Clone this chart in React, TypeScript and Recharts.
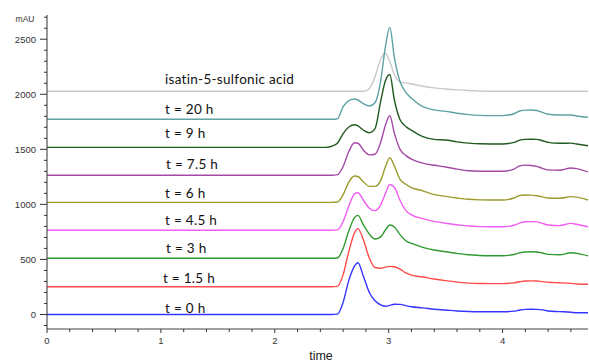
import React from "react";
import { LineChart, Line, XAxis, YAxis, ReferenceDot, Label } from "recharts";

// retention time grid (min)
const TIME = [0, 2.45, 2.5, 2.55, 2.6, 2.65, 2.7, 2.73, 2.78, 2.83, 2.88, 2.93, 2.97, 3.01, 3.05, 3.1, 3.15, 3.2, 3.3, 3.4, 3.5, 3.6, 3.7, 3.8, 3.9, 4.0, 4.1, 4.15, 4.2, 4.25, 4.3, 4.35, 4.4, 4.5, 4.6, 4.65, 4.75];

// absorbance above each trace's own baseline (mAU)
const T_0H = [0, 0, 0, 3, 110, 310, 440, 470, 340, 200, 125, 88, 75, 82, 93, 92, 80, 70, 60, 48, 40, 32, 27, 25, 25, 25, 30, 40, 46, 47, 46, 42, 32, 26, 20, 16, 15];
const T_1_5H = [0, 0, 0, 3, 110, 320, 490, 528, 420, 260, 175, 168, 178, 185, 182, 160, 125, 105, 88, 70, 55, 42, 33, 29, 28, 28, 35, 45, 52, 53, 52, 46, 40, 36, 30, 25, 22];
const T_3H = [0, 0, 0, 3, 90, 250, 370, 390, 300, 220, 175, 195, 255, 303, 285, 215, 160, 135, 100, 75, 60, 45, 32, 26, 24, 24, 35, 50, 58, 60, 58, 48, 36, 32, 50, 45, 22];
const T_4_5H = [0, 0, 0, 3, 80, 220, 330, 341, 270, 200, 178, 230, 330, 415, 390, 270, 180, 139, 105, 80, 63, 50, 38, 33, 32, 32, 45, 65, 77, 78, 76, 62, 48, 42, 62, 55, 32];
const T_6H = [0, 0, 0, 3, 70, 185, 240, 235, 185, 145, 145, 200, 320, 405, 330, 210, 165, 135, 105, 70, 55, 40, 28, 23, 22, 22, 40, 62, 67, 66, 60, 50, 40, 37, 52, 48, 22];
const T_7_5H = [0, 0, 0, 5, 80, 215, 295, 290, 225, 185, 190, 300, 450, 540, 380, 235, 180, 145, 110, 90, 75, 55, 40, 36, 36, 36, 55, 85, 91, 88, 80, 62, 48, 45, 66, 60, 30];
const T_9H = [0, 0, 10, 37, 125, 185, 205, 195, 155, 133, 170, 420, 600, 662, 430, 250, 190, 155, 97, 72, 67, 50, 38, 32, 31, 31, 45, 65, 72, 73, 72, 60, 45, 37, 38, 30, 15];
const T_20H = [0, 0, 0, 5, 115, 170, 184, 175, 140, 121, 150, 350, 650, 835, 560, 340, 245, 191, 115, 85, 72, 55, 42, 35, 33, 33, 50, 75, 83, 84, 80, 62, 45, 39, 39, 30, 18];
const ISATIN = [0, 0, 0, 0, 0, 0, 0, 0, 0, 25, 130, 290, 344, 270, 150, 85, 75, 65, 45, 30, 20, 12, 6, 2, 0, 0, 0, 0, 0, 0, 0, 0, 0, 0, 0, 0, 0];

const SERIES_NAMES = ["t = 0 h", "t = 1.5 h", "t = 3 h", "t = 4.5 h", "t = 6 h", "t = 7.5 h", "t = 9 h", "t = 20 h", "isatin-5-sulfonic acid"];
const SERIES_VALUES = [T_0H, T_1_5H, T_3H, T_4_5H, T_6H, T_7_5H, T_9H, T_20H, ISATIN];
const OFFSETS = [0, 252, 510, 765, 1018, 1265, 1518, 1773, 2028];
const COLORS = ["#3535ff", "#ff4a4a", "#2f9a2f", "#f25cf2", "#9b9b2e", "#a449a4", "#1f5a1f", "#5fa2a4", "#c9c9c9"];

// label anchor positions (data space)
const LABEL_X = [1.036, 1.018, 1.045, 1.036, 1.036, 1.045, 1.036, 1.036, 1.036];
const LABEL_Y = [56, 334, 601, 858, 1101, 1364, 1646, 1864, 2139];

const X_TICKS = [0, 0.2, 0.4, 0.6, 0.8, 1, 1.2, 1.4, 1.6, 1.8, 2, 2.2, 2.4, 2.6, 2.8, 3, 3.2, 3.4, 3.6, 3.8, 4, 4.2, 4.4, 4.6];
const X_LABELS = [0, 1, 2, 3, 4];
const Y_TICKS = [-100, 0, 100, 200, 300, 400, 500, 600, 700, 800, 900, 1000, 1100, 1200, 1300, 1400, 1500, 1600, 1700, 1800, 1900, 2000, 2100, 2200, 2300, 2400, 2500, 2600, 2700];
const Y_LABELS = [0, 500, 1000, 1500, 2000, 2500];

const data = TIME.map((t, i) => {
  const row: Record<string, number> = { t };
  SERIES_VALUES.forEach((s, k) => {
    row["s" + k] = s[i] + OFFSETS[k];
  });
  return row;
});

const AXIS_FONT = "'Liberation Sans', Arial, sans-serif";
const LABEL_FONT = "Lato, 'Open Sans', sans-serif";

const YTick = (props: any) => {
  const { x, y, payload } = props;
  const major = Y_LABELS.includes(payload.value);
  return (
    <g>
      <line x1={x - (major ? 7 : 3)} x2={x} y1={y} y2={y} stroke="#333" strokeWidth={1} />
      {major && (
        <text x={x - 11} y={y} textAnchor="end" dominantBaseline="central" fontSize={9.5} fill="#333" fontFamily={AXIS_FONT}>
          {payload.value}
        </text>
      )}
    </g>
  );
};

const XTick = (props: any) => {
  const { x, y, payload } = props;
  const major = X_LABELS.includes(payload.value);
  return (
    <g>
      <line x1={x} x2={x} y1={y} y2={y + (major ? 4 : 3)} stroke="#333" strokeWidth={1} />
      {major && (
        <text x={x} y={y + 11} textAnchor="middle" dominantBaseline="central" fontSize={9.5} fill="#333" fontFamily={AXIS_FONT}>
          {payload.value}
        </text>
      )}
    </g>
  );
};

export default function App() {
  return (
    <div style={{ position: "absolute", left: 0, top: 0, width: 589, height: 362, background: "#fff" }}>
      <LineChart width={589} height={362} data={data} margin={{ top: 15, right: 1, bottom: 0, left: 0 }}>
        <XAxis
          dataKey="t"
          type="number"
          domain={[0, 4.75]}
          ticks={X_TICKS}
          interval={0}
          tick={<XTick />}
          tickLine={false}
          tickSize={0}
          tickMargin={0}
          height={33}
          axisLine={{ stroke: "#a0a0a0", strokeWidth: 2 }}
        >
          <Label
            content={() => (
              <text x={321} y={360} textAnchor="middle" fontSize={12.5} fill="#222" fontFamily={AXIS_FONT}>
                time
              </text>
            )}
          />
        </XAxis>
        <YAxis
          type="number"
          domain={[-132, 2720]}
          ticks={Y_TICKS}
          interval={0}
          tick={<YTick />}
          tickLine={false}
          tickSize={0}
          tickMargin={0}
          width={47}
          allowDataOverflow
          axisLine={{ stroke: "#333", strokeWidth: 1 }}
        >
          <Label
            content={() => (
              <text x={25} y={19} textAnchor="middle" dominantBaseline="central" fontSize={8.5} fill="#333" fontFamily={AXIS_FONT}>
                mAU
              </text>
            )}
          />
        </YAxis>
        {SERIES_NAMES.map((name, k) => (
          <Line
            key={name}
            dataKey={"s" + k}
            name={name}
            type="monotone"
            stroke={COLORS[k]}
            strokeWidth={1.4}
            dot={false}
            activeDot={false}
            isAnimationActive={false}
          />
        )).reverse()}
        {SERIES_NAMES.map((name, k) => (
          <ReferenceDot
            key={"lbl" + k}
            x={LABEL_X[k]}
            y={LABEL_Y[k]}
            r={0}
            shape={(p: any) => (
              <text x={p.cx} y={p.cy} textAnchor="start" dominantBaseline="central" fontSize={13.5} letterSpacing={0.3} fill="#111" fontFamily={LABEL_FONT}>
                {name}
              </text>
            )}
          />
        ))}
      </LineChart>
    </div>
  );
}
